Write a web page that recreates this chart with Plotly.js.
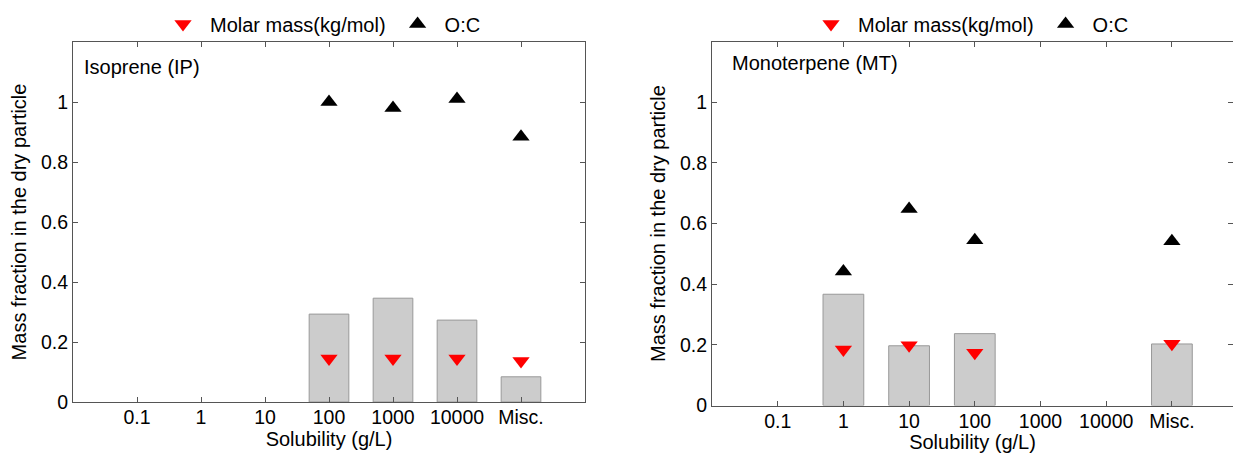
<!DOCTYPE html>
<html>
<head>
<meta charset="utf-8">
<script src="https://cdn.plot.ly/plotly-3.0.1.min.js"></script>
<style>
html, body { margin: 0; padding: 0; background: #fff; }
#chart { width: 1233px; height: 453px; }
</style>
</head>
<body>
<div id="chart"></div>
<script>
// Solubility categories (tick labels)
const categories = ['0.1', '1', '10', '100', '1000', '10000', 'Misc.'];

// Isoprene (IP) panel
const ipMassFraction = [null, null, null, 0.293, 0.346, 0.273, 0.084];
const ipMolarMass    = [null, null, null, 0.145, 0.145, 0.145, 0.137];
const ipOC           = [null, null, null, 1.000, 0.980, 1.010, 0.884];

// Monoterpene (MT) panel
const mtMassFraction = [null, 0.367, 0.197, 0.237, null, null, 0.203];
const mtMolarMass    = [null, 0.185, 0.199, 0.174, null, null, 0.204];
const mtOC           = [null, 0.442, 0.648, 0.545, null, null, 0.542];

const yTickVals = [0, 0.2, 0.4, 0.6, 0.8, 1];
const yTickText = ['0', '0.2', '0.4', '0.6', '0.8', '1'];

const FONT = 'Liberation Sans, Arial, sans-serif';
const W = 1233, H = 453;
const px = v => v / W;
const py = v => (H - v) / H;

const barStyle = { color: '#cccccc', line: { color: '#999999', width: 1 } };

const traces = [
  { type: 'bar', x: categories, y: ipMassFraction, width: 0.62, marker: barStyle,
    xaxis: 'x', yaxis: 'y', showlegend: false, hoverinfo: 'skip' },
  { type: 'scatter', mode: 'markers', x: categories, y: ipMolarMass, name: 'Molar mass(kg/mol)',
    marker: { symbol: 'triangle-down', color: '#ff0000', size: 15 },
    xaxis: 'x', yaxis: 'y', legend: 'legend' },
  { type: 'scatter', mode: 'markers', x: categories, y: ipOC, name: 'O:C',
    marker: { symbol: 'triangle-up', color: '#000000', size: 15 },
    xaxis: 'x', yaxis: 'y', legend: 'legend' },

  { type: 'bar', x: categories, y: mtMassFraction, width: 0.62, marker: barStyle,
    xaxis: 'x2', yaxis: 'y2', showlegend: false, hoverinfo: 'skip' },
  { type: 'scatter', mode: 'markers', x: categories, y: mtMolarMass, name: 'Molar mass(kg/mol)',
    marker: { symbol: 'triangle-down', color: '#ff0000', size: 15 },
    xaxis: 'x2', yaxis: 'y2', legend: 'legend2' },
  { type: 'scatter', mode: 'markers', x: categories, y: mtOC, name: 'O:C',
    marker: { symbol: 'triangle-up', color: '#000000', size: 15 },
    xaxis: 'x2', yaxis: 'y2', legend: 'legend2' }
];

const xCommon = {
  type: 'category', categoryorder: 'array', categoryarray: categories,
  showline: true, linecolor: '#555555', linewidth: 1, mirror: 'ticks',
  ticks: 'inside', ticklen: 5, tickcolor: '#555555', tickwidth: 1,
  showgrid: false, zeroline: false, ticklabelstandoff: -2,
  tickfont: { family: FONT, size: 19.5, color: '#000' }
};
const yCommon = {
  range: [0, 1.2], tickvals: yTickVals, ticktext: yTickText,
  showline: true, linecolor: '#555555', linewidth: 1, mirror: 'ticks',
  ticks: 'inside', ticklen: 5, tickcolor: '#555555', tickwidth: 1,
  showgrid: false, zeroline: false,
  tickfont: { family: FONT, size: 19.5, color: '#000' },
  title: { text: 'Mass fraction in the dry particle', font: { family: FONT, size: 20, color: '#000' }, standoff: 8 }
};
const xTitle = standoff => ({ text: 'Solubility (g/L)', font: { family: FONT, size: 20, color: '#000' }, standoff: standoff });
const legendStyle = { orientation: 'h', xanchor: 'center', y: py(24), yanchor: 'middle', itemwidth: 44,
  bgcolor: 'rgba(0,0,0,0)', font: { family: FONT, size: 20, color: '#000' } };

const layout = {
  width: W, height: H, autosize: false,
  margin: { l: 0, r: 0, t: 0, b: 0, pad: 0 },
  paper_bgcolor: '#fff', plot_bgcolor: 'rgba(0,0,0,0)',
  font: { family: FONT, size: 20, color: '#000' },
  bargap: 0,
  xaxis: Object.assign({}, xCommon, { domain: [px(73), px(585)], range: [-1, 7], anchor: 'y', title: xTitle(3) }),
  yaxis: Object.assign({}, yCommon, { domain: [py(402), py(42)], anchor: 'x' }),
  xaxis2: Object.assign({}, xCommon, { domain: [px(712), 1], range: [-1, 6.93], anchor: 'y2', title: xTitle(5) }),
  yaxis2: Object.assign({}, yCommon, { domain: [py(405.5), py(41.7)], anchor: 'x2' }),
  legend: Object.assign({}, legendStyle, { x: px(321) }),
  legend2: Object.assign({}, legendStyle, { x: px(969) }),
  annotations: [
    { text: 'Isoprene (IP)', xref: 'paper', yref: 'paper', x: px(82), y: py(67),
      xanchor: 'left', yanchor: 'middle', showarrow: false, font: { family: FONT, size: 20, color: '#000' } },
    { text: 'Monoterpene (MT)', xref: 'paper', yref: 'paper', x: px(730), y: py(63),
      xanchor: 'left', yanchor: 'middle', showarrow: false, font: { family: FONT, size: 20, color: '#000' } }
  ]
};

Plotly.newPlot('chart', traces, layout, { staticPlot: true, displayModeBar: false });
</script>
</body>
</html>
